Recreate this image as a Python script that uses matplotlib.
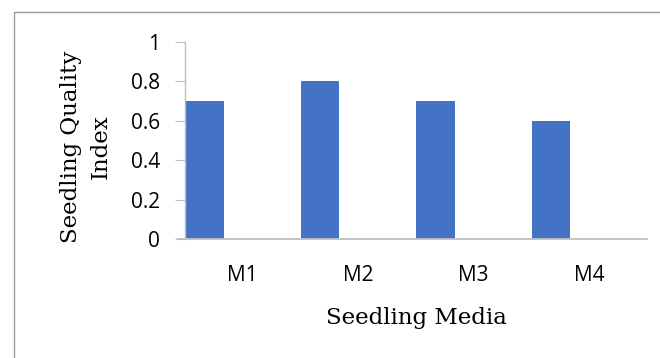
import matplotlib.pyplot as plt
from matplotlib.patches import Rectangle

media = ['M1', 'M2', 'M3', 'M4']
sqi = [0.7, 0.8, 0.7, 0.6]
yticks = [0, 0.2, 0.4, 0.6, 0.8, 1]
ytick_labels = ['0', '0.2', '0.4', '0.6', '0.8', '1']

W, H = 660, 358
fig = plt.figure(figsize=(W / 100, H / 100), dpi=100)

# chart frame (only top and left edges visible in the crop)
fig.patches.append(Rectangle((14 / W, -0.1), 1.2, 1 - 12 / H + 0.1,
                             transform=fig.transFigure, fill=False,
                             edgecolor='#9a9a9a', linewidth=1.0))

ax = fig.add_axes([185 / W, 1 - 239 / H, (647 - 185) / W, (239 - 42) / H])

x = list(range(len(media)))
# bar sits at the left third of each category slot
ax.bar([i - 0.5 for i in x], sqi, width=0.335, align='edge', color='#4472C4')

ax.set_xlim(-0.5, len(media) - 0.5)
ax.set_ylim(0, 1)
ax.set_xticks(x)
ax.set_xticklabels(media, fontfamily='Open Sans', fontsize=15)
ax.set_yticks(yticks)
ax.set_yticklabels(ytick_labels, fontfamily='Open Sans', fontsize=15)

for s in ['top', 'right']:
    ax.spines[s].set_visible(False)
ax.spines['left'].set_color('#bfbfbf')
ax.spines['bottom'].set_color('#bfbfbf')
ax.spines['bottom'].set_bounds(-0.5 - 7 / 115.5, len(media) - 0.5)
ax.spines['bottom'].set_linewidth(1.3)
ax.spines['left'].set_linewidth(1.0)

ax.tick_params(axis='x', length=0, pad=19)
ax.tick_params(axis='y', length=7, color='#bfbfbf', pad=11)

fig.text(86 / W, 1 - 147 / H, 'Seedling Quality\nIndex', rotation=90,
         ha='center', va='center', multialignment='center',
         fontfamily='DejaVu Serif', fontsize=16.5, linespacing=1.5)
fig.text(416 / W, 1 - 318 / H, 'Seedling Media', ha='center', va='center',
         fontfamily='DejaVu Serif', fontsize=16.5)

fig.savefig('out.png', dpi=100)
